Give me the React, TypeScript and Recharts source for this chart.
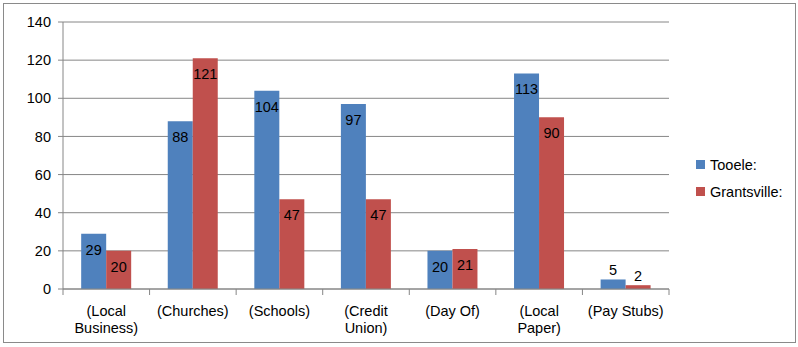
import { BarChart, Bar, XAxis, YAxis, CartesianGrid, LabelList } from 'recharts';

const categories = ['(Local\nBusiness)', '(Churches)', '(Schools)', '(Credit\nUnion)', '(Day Of)', '(Local\nPaper)', '(Pay Stubs)'];
const tooele = [29, 88, 104, 97, 20, 113, 5];
const grantsville = [20, 121, 47, 47, 21, 90, 2];
const yTicks = [0, 20, 40, 60, 80, 100, 120, 140];
const series = [
  { key: 'tooele', name: 'Tooele:', color: '#4F81BD' },
  { key: 'grantsville', name: 'Grantsville:', color: '#C0504D' },
];

const data = categories.map((name, i) => ({ name, tooele: tooele[i], grantsville: grantsville[i] }));

const FONT = '"Liberation Sans", Arial, sans-serif';
const AXIS = '#868686';

const CategoryTick = (props: any) => {
  const { x, y, payload, index } = props;
  const band = (669 - 63) / categories.length;
  const lines = String(payload.value).split('\n');
  return (
    <g>
      <line x1={x - band / 2} y1={y - 8} x2={x - band / 2} y2={y - 2} stroke={AXIS} />
      {index === categories.length - 1 && (
        <line x1={x + band / 2} y1={y - 8} x2={x + band / 2} y2={y - 2} stroke={AXIS} />
      )}
      <text x={x} y={y + 19} textAnchor="middle" fontSize={14.5} fill="#000" fontFamily={FONT}>
        {lines.map((l, k) => (
          <tspan key={k} x={x} dy={k === 0 ? 0 : 17}>{l}</tspan>
        ))}
      </text>
    </g>
  );
};

const ValueLabel = (props: any) => {
  const { x, y, width, height, value } = props;
  const small = height < 24;
  return (
    <text
      x={x + width / 2}
      y={small ? y - 4 : y + 21}
      textAnchor="middle"
      fontSize={14.5}
      fill="#000"
      fontFamily={FONT}
    >
      {value}
    </text>
  );
};

export default function App() {
  return (
    <div style={{ position: 'absolute', left: 0, top: 0, width: 798, height: 347, background: '#fff', fontFamily: FONT }}>
      <div style={{ position: 'absolute', left: 3, top: 3, width: 791, height: 338, border: '1px solid #8a8a8a' }} />
      <BarChart
        width={798}
        height={347}
        data={data}
        margin={{ top: 22, right: 129, bottom: 0, left: 0 }}
        barCategoryGap="21%"
        barGap={0}
      >
        <CartesianGrid vertical={false} stroke={AXIS} />
        <XAxis
          dataKey="name"
          interval={0}
          tickLine={false}
          axisLine={{ stroke: AXIS }}
          tick={<CategoryTick />}
          height={58}
        />
        <YAxis
          width={63}
          domain={[0, 140]}
          ticks={yTicks}
          interval={0}
          axisLine={{ stroke: AXIS }}
          tickLine={{ stroke: AXIS }}
          tickSize={5}
          tick={{ fill: '#000', fontSize: 14.5, fontFamily: FONT, dx: -5 }}
        />
        {series.map((s) => (
          <Bar key={s.key} dataKey={s.key} name={s.name} fill={s.color} isAnimationActive={false}>
            <LabelList dataKey={s.key} content={<ValueLabel />} />
          </Bar>
        ))}
      </BarChart>
      <div style={{ position: 'absolute', left: 696, top: 151 }}>
        {series.map((s) => (
          <div key={s.key} style={{ display: 'flex', alignItems: 'center', height: 27, fontSize: 14.5, color: '#000' }}>
            <span style={{ width: 9, height: 9, background: s.color, marginRight: 5, display: 'inline-block' }} />
            {s.name}
          </div>
        ))}
      </div>
    </div>
  );
}
